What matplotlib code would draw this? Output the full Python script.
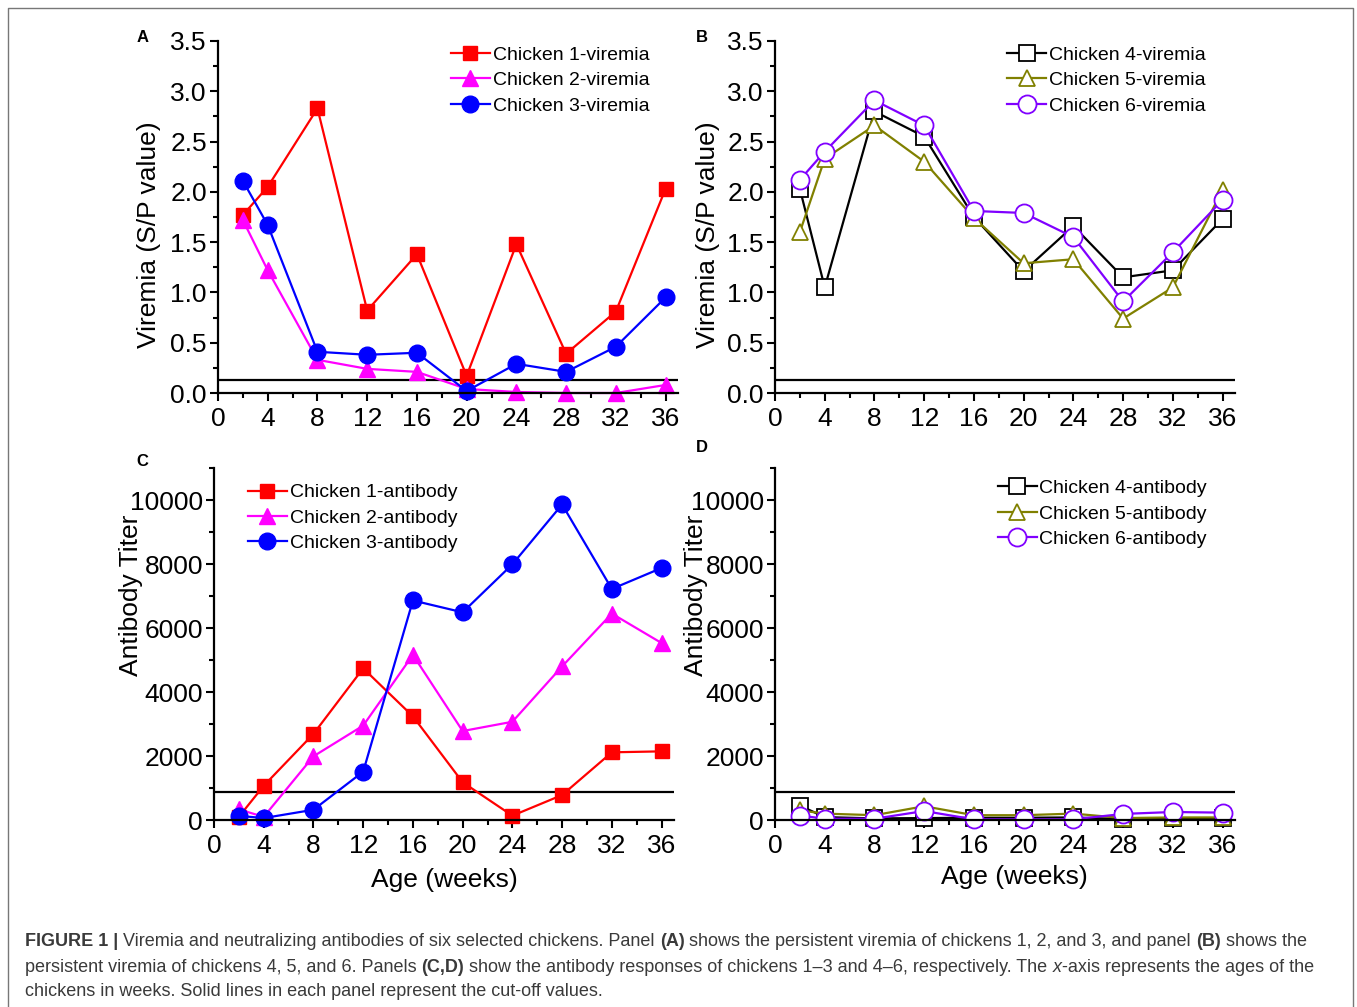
import matplotlib
matplotlib.use("Agg")
import matplotlib.pyplot as plt
from matplotlib.ticker import MultipleLocator
from matplotlib.lines import Line2D

plt.rcParams['font.family'] = ['Liberation Sans', 'DejaVu Sans']

weeks = [2, 4, 8, 12, 16, 20, 24, 28, 32, 36]
x_ticks = [0, 4, 8, 12, 16, 20, 24, 28, 32, 36]

# Panel A viremia
ch1_vir = [1.77, 2.05, 2.83, 0.82, 1.38, 0.17, 1.48, 0.39, 0.81, 2.03]
ch2_vir = [1.72, 1.22, 0.33, 0.24, 0.21, 0.04, 0.01, 0.00, 0.00, 0.08]
ch3_vir = [2.11, 1.67, 0.41, 0.38, 0.40, 0.02, 0.29, 0.21, 0.46, 0.95]
# Panel B viremia
ch4_vir = [2.03, 1.05, 2.80, 2.55, 1.75, 1.21, 1.66, 1.15, 1.22, 1.73]
ch5_vir = [1.60, 2.33, 2.66, 2.30, 1.74, 1.29, 1.33, 0.74, 1.05, 2.02]
ch6_vir = [2.12, 2.40, 2.91, 2.66, 1.81, 1.79, 1.55, 0.91, 1.40, 1.92]
# Panel C antibody
ch1_ab = [100, 1070, 2690, 4740, 3240, 1180, 135, 780, 2115, 2145]
ch2_ab = [330, 100, 1990, 2950, 5160, 2780, 3070, 4800, 6450, 5530]
ch3_ab = [130, 60, 320, 1510, 6860, 6490, 7990, 9860, 7220, 7875]
# Panel D antibody
ch4_ab = [450, 90, 50, 60, 70, 70, 80, 30, 50, 50]
ch5_ab = [300, 200, 150, 430, 150, 150, 200, 60, 80, 80]
ch6_ab = [140, 40, 40, 280, 20, 20, 20, 190, 250, 230]

vir_cutoff = 0.13
ab_cutoff = 860

fig = plt.figure(figsize=(13.57, 10.07), dpi=100)
W, H = 1357.0, 1007.0

def px_axes(l, r, t, b):
    return fig.add_axes([l / W, 1 - b / H, (r - l) / W, (b - t) / H])

axA = px_axes(218, 678, 41, 393)
axB = px_axes(775, 1235, 41, 393)
axC = px_axes(214, 674, 468, 820)
axD = px_axes(775, 1235, 468, 820)

FS = 19
def style(ax, ymax, ymajor, yminor):
    for s in ['top', 'right']:
        ax.spines[s].set_visible(False)
    for s in ['left', 'bottom']:
        ax.spines[s].set_linewidth(1.6)
    ax.set_xlim(0, 37)
    ax.set_ylim(0, ymax)
    ax.set_xticks(x_ticks)
    ax.xaxis.set_minor_locator(MultipleLocator(2))
    ax.yaxis.set_major_locator(MultipleLocator(ymajor))
    ax.yaxis.set_minor_locator(MultipleLocator(yminor))
    ax.tick_params(which='major', direction='out', length=6, width=1.5,
                   labelsize=FS, pad=2)
    ax.tick_params(axis='x', which='major', pad=4)
    ax.tick_params(which='minor', direction='out', length=3.5, width=1.5)
    for sp in ax.spines.values():
        sp.set_zorder(5)

style(axA, 3.5, 0.5, 0.25)
style(axB, 3.5, 0.5, 0.25)
style(axC, 11000, 2000, 1000)
style(axD, 11000, 2000, 1000)
for ax in (axA, axB):
    ax.yaxis.set_major_formatter(matplotlib.ticker.FormatStrFormatter('%.1f'))
    ax.set_yticks([0, 0.5, 1.0, 1.5, 2.0, 2.5, 3.0, 3.5])
for ax in (axC, axD):
    ax.set_yticks([0, 2000, 4000, 6000, 8000, 10000])

lw = 1.6
# Panel A
axA.axhline(vir_cutoff, color='black', lw=1.6, zorder=1)
axA.plot(weeks, ch1_vir, '-s', color='#FF0000', ms=10.5, lw=lw, label='Chicken 1-viremia', clip_on=False)
axA.plot(weeks, ch2_vir, '-^', color='#FF00FF', ms=11.5, lw=lw, label='Chicken 2-viremia', clip_on=False)
axA.plot(weeks, ch3_vir, '-o', color='#0000FF', ms=12, lw=lw, label='Chicken 3-viremia', clip_on=False)

# Panel B
axB.axhline(vir_cutoff, color='black', lw=1.6, zorder=1)
axB.plot(weeks, ch4_vir, '-s', color='black', mfc='white', mec='black', mew=1.3, ms=11, lw=lw, label='Chicken 4-viremia', clip_on=False)
axB.plot(weeks, ch5_vir, '-^', color='#808000', mfc='white', mec='#808000', mew=1.3, ms=12, lw=lw, label='Chicken 5-viremia', clip_on=False)
axB.plot(weeks, ch6_vir, '-o', color='#8000FF', mfc='white', mec='#8000FF', mew=1.3, ms=13, lw=lw, label='Chicken 6-viremia', clip_on=False)

# Panel C
axC.axhline(ab_cutoff, color='black', lw=1.6, zorder=1)
axC.plot(weeks, ch1_ab, '-s', color='#FF0000', ms=10.5, lw=lw, label='Chicken 1-antibody', clip_on=False)
axC.plot(weeks, ch2_ab, '-^', color='#FF00FF', ms=11.5, lw=lw, label='Chicken 2-antibody', clip_on=False)
axC.plot(weeks, ch3_ab, '-o', color='#0000FF', ms=12, lw=lw, label='Chicken 3-antibody', clip_on=False)

# Panel D
axD.axhline(ab_cutoff, color='black', lw=1.6, zorder=1)
axD.plot(weeks, ch4_ab, '-s', color='black', mfc='white', mec='black', mew=1.3, ms=11, lw=lw, label='Chicken 4-antibody', clip_on=False)
axD.plot(weeks, ch5_ab, '-^', color='#808000', mfc='white', mec='#808000', mew=1.3, ms=12, lw=lw, label='Chicken 5-antibody', clip_on=False)
axD.plot(weeks, ch6_ab, '-o', color='#8000FF', mfc='white', mec='#8000FF', mew=1.3, ms=13, lw=lw, label='Chicken 6-antibody', clip_on=False)

leg_kw = dict(frameon=False, fontsize=14, handlelength=2.0, handletextpad=0.15,
              labelspacing=0.40, borderpad=0, borderaxespad=0, loc='upper left')
axA.legend(bbox_to_anchor=(0.506, 0.985), **leg_kw)
axB.legend(bbox_to_anchor=(0.505, 0.985), **leg_kw)
axC.legend(bbox_to_anchor=(0.074, 0.955), **leg_kw)
axD.legend(bbox_to_anchor=(0.484, 0.967), **leg_kw)

axA.set_ylabel('Viremia (S/P value)', fontsize=FS)
axB.set_ylabel('Viremia (S/P value)', fontsize=FS)
axC.set_ylabel('Antibody Titer', fontsize=FS)
axD.set_ylabel('Antibody Titer', fontsize=FS)
axA.yaxis.set_label_coords(-0.124, 0.45)
axB.yaxis.set_label_coords(-0.120, 0.45)
axC.yaxis.set_label_coords(-0.154, 0.638)
axD.yaxis.set_label_coords(-0.146, 0.638)
axC.set_xlabel('Age (weeks)', fontsize=FS)
axD.set_xlabel('Age (weeks)', fontsize=FS)
axC.xaxis.set_label_coords(0.5, -0.135)
axD.xaxis.set_label_coords(0.52, -0.127)

for lab, (x, y) in zip('ABCD', [(143, 37), (702, 37), (142, 461), (702, 447)]):
    fig.text(x / W, 1 - y / H, lab, fontsize=12, fontweight='bold', ha='center', va='center')

# Border
fig.add_artist(Line2D([8 / W, 8 / W, 1353 / W, 1353 / W], [-0.01, 1 - 8 / H, 1 - 8 / H, -0.01],
                      transform=fig.transFigure, color='#777777', lw=1))

# Caption
cap_color = '#3a3a3a'
lines = [
    [("FIGURE 1 | ", 'bold', 'normal'),
     ("Viremia and neutralizing antibodies of six selected chickens. Panel ", 'normal', 'normal'),
     ("(A)", 'bold', 'normal'),
     (" shows the persistent viremia of chickens 1, 2, and 3, and panel ", 'normal', 'normal'),
     ("(B)", 'bold', 'normal'),
     (" shows the", 'normal', 'normal')],
    [("persistent viremia of chickens 4, 5, and 6. Panels ", 'normal', 'normal'),
     ("(C,D)", 'bold', 'normal'),
     (" show the antibody responses of chickens 1\u20133 and 4\u20136, respectively. The ", 'normal', 'normal'),
     ("x", 'normal', 'italic'),
     ("-axis represents the ages of the", 'normal', 'normal')],
    [("chickens in weeks. Solid lines in each panel represent the cut-off values.", 'normal', 'normal')],
]
renderer = fig.canvas.get_renderer()
ys = [942, 967, 992]
for segs, y in zip(lines, ys):
    xpx = 25.0
    for txt, wt, st in segs:
        t = fig.text(xpx / W, 1 - y / H, txt, fontsize=13, fontweight=wt, fontstyle=st,
                     color=cap_color, ha='left', va='center')
        bb = t.get_window_extent(renderer=renderer)
        xpx += bb.width

fig.savefig('out.png', dpi=100)
